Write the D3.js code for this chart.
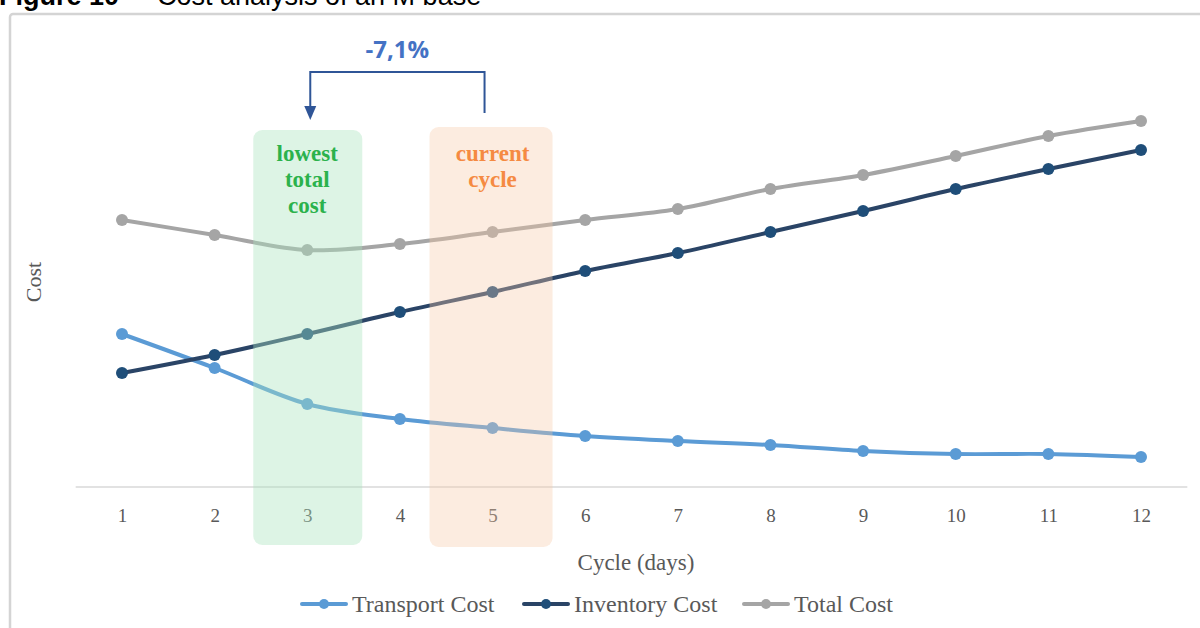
<!DOCTYPE html>
<html>
<head>
<meta charset="utf-8">
<script src="https://cdn.jsdelivr.net/npm/d3@7"></script>
<style>
  html, body { margin: 0; padding: 0; background: #fff; }
  svg { display: block; }
</style>
</head>
<body>
<svg id="chart" width="1200" height="628"></svg>
<script>
// Cycle length in days
const cycles = [1, 2, 3, 4, 5, 6, 7, 8, 9, 10, 11, 12];
// Cost series (relative units)
const transportCost = [153, 119, 83, 68, 59, 51, 46, 42, 36, 33, 33, 30];
const inventoryCost = [114, 132, 153, 175, 195, 216, 234, 255, 276, 298, 318, 337];
const totalCost     = [267, 252, 237, 243, 255, 267, 278, 298, 312, 331, 351, 366];
const seriesNames   = ["Transport Cost", "Inventory Cost", "Total Cost"];
const seriesColors  = ["#5b9bd5", "#2a4466", "#a5a5a5"];
const markerColors  = ["#5b9bd5", "#1f4e79", "#a5a5a5"];
const lowestCycle = 3;
const currentCycle = 5;
const changeLabel = "-7,1%";

const svg = d3.select("#chart");
const serif = "'Liberation Serif', 'DejaVu Serif', serif";
const sans = "'Liberation Sans', Arial, sans-serif";

// Title (partly above the page edge)
const title = svg.append("text").attr("y", 5)
  .attr("font-family", sans).attr("font-size", 27).attr("fill", "#000");
title.append("tspan").attr("x", -1).attr("font-weight", "bold").text("Figure 10");
title.append("tspan").attr("x", 134).text("\u2013");
title.append("tspan").attr("x", 157).text("Cost analysis of an M base");

// Chart frame
svg.append("rect").attr("x", 10).attr("y", 14).attr("width", 1220).attr("height", 640)
  .attr("rx", 3).attr("fill", "none").attr("stroke", "#d4d4d4").attr("stroke-width", 2.5);

const x = d3.scalePoint().domain(cycles).range([122, 1141]);
const step = x.step();
const y = d3.scaleLinear().domain([0, 400]).range([487, 87]);

// Category axis
const xAxis = d3.axisBottom(x).tickSize(0).tickPadding(22);
const gx = svg.append("g").attr("transform", `translate(0,${y(0)})`).call(xAxis);
gx.select(".domain").attr("d", `M${x(1) - step / 2},0H${x(12) + step / 2}`)
  .attr("stroke", "#d9d9d9").attr("stroke-width", 1.5);
gx.selectAll(".tick text").attr("font-family", serif).attr("font-size", 19)
  .attr("fill", "#595959");

// Series lines and markers
const series = [transportCost, inventoryCost, totalCost];
const line = d3.line().x((d, i) => x(cycles[i])).y(d => y(d)).curve(d3.curveCatmullRom.alpha(0.5));
series.forEach((vals, s) => {
  svg.append("path").datum(vals).attr("d", line).attr("fill", "none")
    .attr("stroke", seriesColors[s]).attr("stroke-width", 4).attr("stroke-linecap", "round");
  svg.append("g").selectAll("circle").data(vals).join("circle")
    .attr("cx", (d, i) => x(cycles[i])).attr("cy", d => y(d)).attr("r", 6)
    .attr("fill", markerColors[s]);
});

// Highlight bands
function band(cycle, halfL, halfR, top, bottom, fill) {
  svg.append("rect").attr("x", x(cycle) - halfL).attr("y", top)
    .attr("width", halfL + halfR).attr("height", bottom - top)
    .attr("rx", 9).attr("fill", fill);
}
band(lowestCycle, 54, 55, 130, 545, "rgba(170, 228, 190, 0.40)");
band(currentCycle, 63, 60, 127, 547, "rgba(247, 200, 165, 0.35)");

function bandLabel(cycle, lines, color) {
  const t = svg.append("text").attr("text-anchor", "middle")
    .attr("font-family", serif).attr("font-weight", "bold").attr("font-size", 23)
    .attr("fill", color);
  lines.forEach((l, i) => t.append("tspan").attr("x", x(cycle)).attr("y", 161 + i * 26).text(l));
}
bandLabel(lowestCycle, ["lowest", "total", "cost"], "#2bb24c");
bandLabel(currentCycle, ["current", "cycle"], "#f58a42");

// Change bracket from current cycle to lowest-cost cycle
const bx1 = x(currentCycle) - 8, bx0 = x(lowestCycle) + 3;
svg.append("path").attr("d", `M${bx1},113V72H${bx0}V108`)
  .attr("fill", "none").attr("stroke", "#2f5597").attr("stroke-width", 2);
svg.append("path").attr("d", `M${bx0 - 6},106L${bx0 + 6},106L${bx0},120Z`).attr("fill", "#2f5597");
svg.append("text").attr("x", (bx0 + bx1) / 2).attr("y", 58).attr("text-anchor", "middle")
  .attr("font-family", "'Open Sans', 'DejaVu Sans', sans-serif").attr("font-weight", "bold")
  .attr("font-size", 24).attr("fill", "#4472c4").text(changeLabel);

// Axis titles
svg.append("text").attr("x", 636).attr("y", 570).attr("text-anchor", "middle")
  .attr("font-family", serif).attr("font-size", 23).attr("fill", "#595959").text("Cycle (days)");
svg.append("text").attr("transform", "translate(41,282) rotate(-90)").attr("text-anchor", "middle")
  .attr("font-family", serif).attr("font-size", 22).attr("fill", "#595959").text("Cost");

// Legend
const legendX = [302, 524, 744];
seriesNames.forEach((name, s) => {
  const g = svg.append("g").attr("transform", `translate(${legendX[s]},604)`);
  g.append("line").attr("x1", 0).attr("x2", 44).attr("stroke", seriesColors[s])
    .attr("stroke-width", 4).attr("stroke-linecap", "round");
  g.append("circle").attr("cx", 22).attr("r", 5).attr("fill", markerColors[s]);
  g.append("text").attr("x", 50).attr("y", 8).attr("font-family", serif)
    .attr("font-size", 24).attr("fill", "#595959").text(name);
});
</script>
</body>
</html>
